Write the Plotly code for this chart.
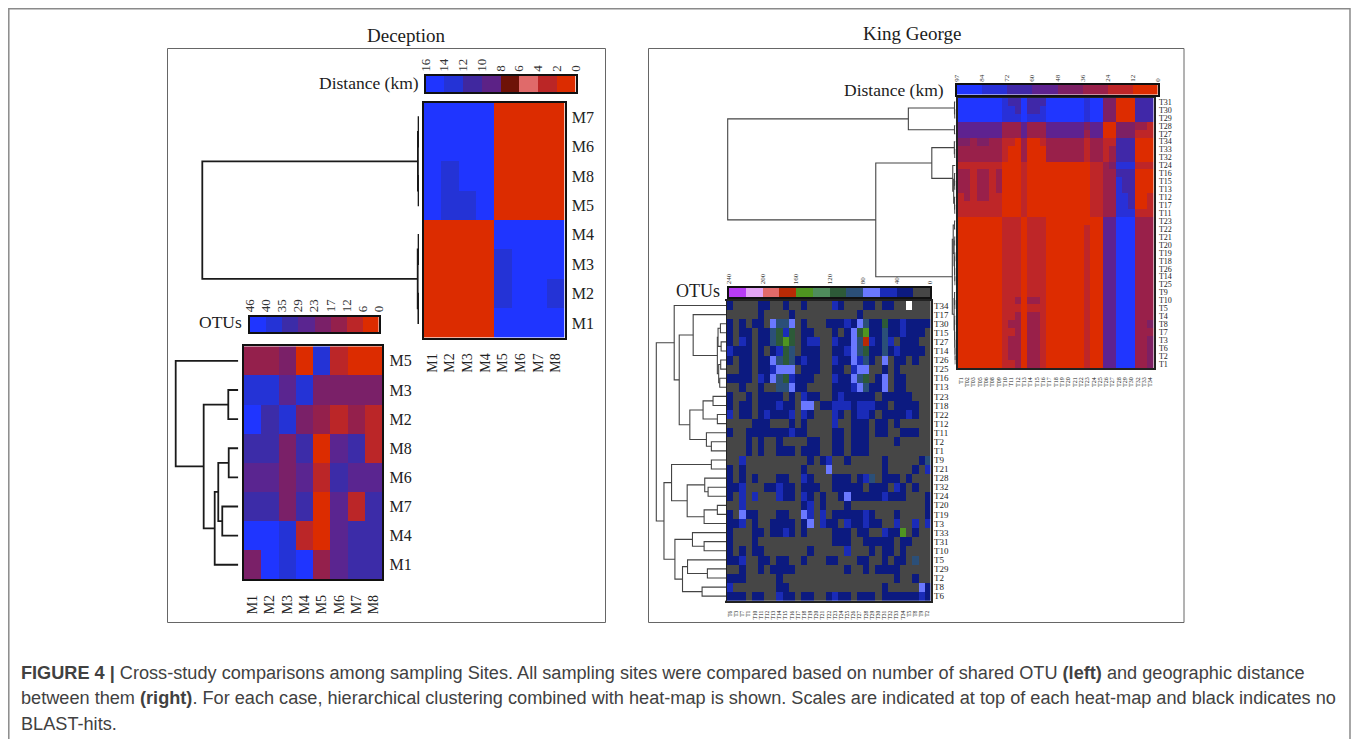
import plotly.graph_objects as go

PAGE_MARGIN = 8  # the page's own body margin
W, H = 1359 - PAGE_MARGIN, 739 - PAGE_MARGIN
SERIF = "Liberation Serif"
SANS = "Liberation Sans"

# ---------------- Deception: distance ----------------
DEC_DIST_LABELS = ["16", "14", "12", "10", "8", "6", "4", "2", "0"]
DEC_DIST_COLORS = ["#dc2c00", "#bb2626", "#e06a6a", "#6e1208", "#5c2286", "#40289f", "#2433d6", "#1f35ff"]
DEC_COLS = ["M1", "M2", "M3", "M4", "M5", "M6", "M7", "M8"]
DEC_DIST_ROWS = ["M7", "M6", "M8", "M5", "M4", "M3", "M2", "M1"]
DEC_DIST = [
    [7, 7, 7, 7, 0, 0, 0, 0],
    [7, 7, 7, 7, 0, 0, 0, 0],
    [7, 6, 7, 7, 0, 0, 0, 0],
    [7, 6, 6, 7, 0, 0, 0, 0],
    [0, 0, 0, 0, 7, 7, 7, 7],
    [0, 0, 0, 0, 6, 7, 7, 7],
    [0, 0, 0, 0, 6, 7, 7, 6],
    [0, 0, 0, 0, 7, 7, 7, 7],
]
DEC_DIST_TREE = (1, (0.005, (0.002, 0, 1), (0.002, 2, 3)), (0.006, (0.002, 4, 5), (0.003, 6, 7)))

# ---------------- Deception: OTUs ----------------
DEC_OTU_LABELS = ["46", "40", "35", "29", "23", "17", "12", "6", "0"]
DEC_OTU_COLORS = ["#dc2c00", "#bb2628", "#94204c", "#7a2068", "#5a2590", "#3c2ca8", "#2433d6", "#1f35ff"]
DEC_OTU_ROWS = ["M5", "M3", "M2", "M8", "M6", "M7", "M4", "M1"]
DEC_OTU = [
    [2, 2, 3, 0, 6, 1, 0, 0],
    [6, 6, 4, 6, 3, 3, 3, 3],
    [7, 5, 6, 3, 2, 1, 2, 1],
    [5, 5, 3, 5, 0, 4, 5, 1],
    [4, 4, 3, 4, 1, 5, 4, 4],
    [5, 5, 3, 5, 0, 4, 1, 5],
    [7, 7, 6, 1, 0, 4, 5, 5],
    [3, 7, 6, 7, 2, 4, 5, 5],
]
DEC_OTU_TREE = (1, 0, (0.553, (0.16, 1, 2),
                       (0.377, (0.32, (0.153, 3, 4), (0.256, 5, 6)), 7)))

# ---------------- King George: distance ----------------
KG_DIST_LABELS = ["97", "84", "72", "60", "48", "36", "24", "12", "0"]
KG_DIST_COLORS = ["#dd2c00", "#be2628", "#99204a", "#7d2064", "#5e2290", "#4028a8", "#2830d8", "#2036ff"]
KG_DIST_ROWS = ["T31", "T30", "T29", "T28", "T27", "T34", "T33", "T32", "T24", "T16", "T15", "T13",
                "T12", "T17", "T11", "T23", "T22", "T21", "T20", "T19", "T18", "T26", "T14", "T25",
                "T9", "T10", "T5", "T4", "T8", "T7", "T3", "T6", "T2", "T1"]
KG_DIST_COLS = ["T1", "T02", "T03", "T05", "T06", "T08", "T09", "T10", "T11", "T12", "T13", "T14",
                "T15", "T16", "T17", "T18", "T19", "T20", "T21", "T22", "T23", "T24", "T25", "T26",
                "T27", "T28", "T29", "T30", "T32", "T33", "T34"]
KG_DIST = [
    "7777777 655 7 555 777777 6 77 33 000 555",
    "7777777 665 7 556 777777 6 77 33 000 555",
    "7777777 666 7 666 777777 6 77 33 000 555",
    "4444444 222 4 222 444444 3 44 00 333 221",
    "4444444 222 4 222 444444 2 44 00 333 111",
    "3323322 110 2 001 222222 1 22 11 555 000",
    "2222222 100 2 000 222222 1 22 12 555 000",
    "2222222 100 2 000 222222 1 22 12 555 000",
    "1111111 000 1 000 000000 0 11 23 666 111",
    "2212212 000 1 000 000000 0 11 22 555 000",
    "2212212 000 1 000 000000 0 11 22 655 000",
    "2212212 000 1 000 000000 0 11 22 655 000",
    "1212211 000 1 000 000000 0 11 22 665 001",
    "1111111 000 1 000 000000 0 11 22 665 001",
    "1111111 000 1 000 000000 0 11 22 666 111",
    "0000000 111 0 111 000000 0 00 44 777 222",
    "0000000 111 0 111 000000 1 00 44 777 222",
    "0000000 111 0 111 000000 1 00 44 777 222",
    "0000000 111 0 111 000000 1 00 44 777 222",
    "0000000 111 0 111 000000 1 00 44 777 222",
    "0000000 111 0 111 000000 1 00 44 777 222",
    "0000000 111 0 111 000000 1 00 44 777 222",
    "0000000 111 0 111 000000 1 00 44 777 222",
    "0000000 111 0 111 000000 1 00 44 777 222",
    "0000000 111 0 111 000000 1 00 44 777 222",
    "0000000 112 0 221 000000 1 00 44 777 222",
    "0000000 111 0 111 000000 1 00 44 777 222",
    "0000000 112 0 221 000000 1 00 44 777 222",
    "0000000 122 0 221 000000 1 00 44 777 223",
    "0000000 112 0 221 000000 1 00 44 777 222",
    "0000000 122 0 221 000000 1 00 44 777 223",
    "0000000 122 0 221 000000 1 00 44 777 223",
    "0000000 122 0 221 000000 1 00 44 777 223",
    "0000000 112 0 221 000000 1 00 44 777 223",
]
KG_DIST_TREE = (1,
    (0.207, (0.0044, 0, (0.003, 1, 2)), (0.0044, 3, 4)),
    (0.35,
     (0.104, (0.005, 5, (0.003, 6, 7)),
      (0.012, 8, (0.008, (0.004, 9, (0.003, 10, 11)), (0.004, 12, (0.003, 13, 14))))),
     (0.014,
      (0.010, (0.004, 15, 16), (0.006, (0.003, 17, 18), (0.004, (0.002, 19, 20), (0.003, 21, (0.002, 22, 23))))),
      (0.006, (0.004, 24, (0.002, 25, 26)),
       (0.004, (0.003, 27, 28), (0.003, 29, (0.002, 30, (0.001, 31, (0.001, 32, 33)))))))))

# ---------------- King George: OTUs ----------------
KG_OTU_LABELS = ["240", "", "200", "", "160", "", "120", "", "80", "", "40", "", "0"]
KG_OTU_COLORS = ["#b83cf5", "#e3a5f5", "#e26a6a", "#b82a05", "#4f9520", "#4f8c5c", "#2d5a38", "#2b4f78",
                 "#6a78ff", "#1a2bb8", "#0c1a80", "#464646", "#ffffff"]
KG_OTU_CODES = {"r": 3, "g": 4, "d": 6, "t": 7, "p": 8, "b": 9, "n": 10, ".": 11, "w": 12}
KG_OTU_ROWS = ["T34", "T17", "T30", "T15", "T27", "T14", "T26", "T25", "T16", "T13", "T23", "T18",
               "T22", "T12", "T11", "T2", "T1", "T9", "T21", "T28", "T32", "T24", "T20", "T19",
               "T3", "T33", "T31", "T10", "T5", "T29", "T2", "T8", "T6"]
KG_OTU_COLS = ["T6", "T3", "T7", "T1", "T10", "T11", "T12", "T13", "T14", "T15", "T16", "T17", "T18",
               "T19", "T20", "T21", "T22", "T23", "T24", "T25", "T26", "T27", "T28", "T29", "T30",
               "T31", "T32", "T33", "T34", "T5", "T8", "T9", "T2"]
KG_OTU = [
    "n....nn..n..n....bn...nn.nn..w...",
    ".....n....n..........n...........",
    "n.n.nn.pttp.n...nnnbnptnndnnbnnnn",
    "n.nn.nntdbd.nn...n.npdgnntnnbnnn.",
    "n.bn.nntdgd.nbb..bnnptrbntb.nnn..",
    "bnnn.n.nbdt.nnn..nnbptdnntnbnnnn.",
    "n.nn.nnptdtnbnn..bnnpbtn.p.nn.n..",
    "..nn.nnbppp.nnn..nn.bpp..n.n.....",
    "nnnn.bnptdbnnn...bnnptd.np.nn....",
    "..n..n..ttpnn....nnnbptnnp.nn....",
    "n..n.nnnn.n.bnn..nbnnnnn.nnnnn...",
    "n.nn.nnnbnn.pp.nnbbbnbbbnn.nnnn..",
    "b.nn.nbnnnb.bn...bn.nbbn.nnnnbn..",
    "....nnn...n.n....b..nnn.nn.n.....",
    "n..nnnnnnnbnn....nn.nnn.nn..nnn..",
    "...n.n..n....nn..nn.nnn....n.....",
    "...n.n..nnn.nnn..nn.nnn..........",
    "..b..........n.nb..n.....n.....nt",
    "n.n.........n...p........n....n.b",
    "n.n.n...nn..bn...nnn.nbt.nnn.n...",
    "nnb...nnbnn.nnn..nnnnn.nnn.bn.n..",
    "n.b.b...bnn.bn.n..npnnnnnbnnn...n",
    "..b.........nb.n...n............n",
    "n.pnn...nn..pb.b.nnnnnbn...n....n",
    "nnb.n..nnnn.np.bnn.bnnbnn..b..b.b",
    "n...nn.nnbn.n....nnn.nn..bnng.n..",
    "n...n............nnn..nnnnn.nn...",
    "n.n.nn.......n.....b...n.nn.n....",
    "nnb..nn.nn..n...nn...nn..n.nn.t..",
    "..n..n.nnnn........n..n.nnnn.....",
    "nnn.....n..................n..n..",
    "b.......nn...............n.....pn",
    "nnn.nn..bnn.nn..nbnn.nnn.nnnnnnbn",
]
KG_OTU_TREE = (1,
    (0.743, 0,
     (0.671,
      (0.471, 1,
       (0.124,
        (0.114, (0.08, 2, 3), (0.07, 4, 5)),
        (0.105, (0.076, 6, 7), (0.09, 8, 9)))),
      (0.519,
       (0.329, (0.186, 10, 11), (0.124, 12, 13)),
       (0.281, 14, (0.21, 15, 16))))),
    (0.89,
     (0.781,
      (0.21, 17, 18),
      (0.557,
       (0.305, 19, (0.257, 20, 21)),
       (0.314, (0.124, 22, 23), 24))),
     (0.733,
      (0.481, 25, (0.314, 26, 27)),
      (0.624,
       (0.552, 28, (0.267, 29, 30)),
       (0.343, 31, 32)))))

TITLES = ["Deception", "King George"]
CAPTION = [
    "<b>FIGURE 4 |</b> Cross-study comparisons among sampling Sites. All sampling sites were compared based on number of shared OTU <b>(left)</b> and geographic distance",
    "between them <b>(right)</b>. For each case, hierarchical clustering combined with heat-map is shown. Scales are indicated at top of each heat-map and black indicates no",
    "BLAST-hits.",
]

fig = go.Figure()
layout = {}
axis_n = [0]


def pxx(x):
    return (x - PAGE_MARGIN) / W


def pxy(y):
    return 1 - (y - PAGE_MARGIN) / H


def new_axes(x0, x1, y0, y1, xopts, yopts):
    axis_n[0] += 1
    n = axis_n[0]
    s = "" if n == 1 else str(n)
    xo = dict(domain=[pxx(x0), pxx(x1)], anchor="y" + s, showgrid=False, zeroline=False, fixedrange=True)
    yo = dict(domain=[pxy(y1), pxy(y0)], anchor="x" + s, showgrid=False, zeroline=False, fixedrange=True)
    xo.update(xopts)
    yo.update(yopts)
    layout["xaxis" + s] = xo
    layout["yaxis" + s] = yo
    return "x" + s, "y" + s


def discrete_scale(colors):
    n = len(colors)
    out = []
    for i, c in enumerate(colors):
        out += [[i / n, c], [(i + 1) / n, c]]
    return out


def add_heat(z, colors, x0, x1, y0, y1, xt, yt, line_w, line_c, xfont, yfont, xgap, ygap):
    nr, nc = len(z), len(z[0])
    xa, ya = new_axes(
        x0, x1, y0, y1,
        dict(range=[-0.5, nc - 0.5], tickmode="array", tickvals=list(range(nc)), ticktext=xt,
             tickangle=-90, side="bottom", tickfont=dict(family=SERIF, size=xfont, color="#222"),
             showline=True, mirror=True, linecolor=line_c, linewidth=line_w, ticks="", ticklabelstandoff=xgap),
        dict(range=[nr - 0.5, -0.5], tickmode="array", tickvals=list(range(nr)), ticktext=yt,
             side="right", tickfont=dict(family=SERIF, size=yfont, color="#222"),
             showline=True, mirror=True, linecolor=line_c, linewidth=line_w, ticks="", ticklabelstandoff=ygap),
    )
    fig.add_trace(go.Heatmap(z=z, xaxis=xa, yaxis=ya, colorscale=discrete_scale(colors), zmin=-0.5,
                             zmax=len(colors) - 0.5, showscale=False, hoverinfo="skip"))


def add_legend(colors, order, labels, x0, x1, y0, y1, font, line_w):
    n = len(order)
    vals = [i - 0.5 for i in range(len(labels))]
    xa, ya = new_axes(
        x0, x1, y0, y1,
        dict(range=[-0.5, n - 0.5], tickmode="array", tickvals=vals, ticktext=labels, tickangle=-90, side="top",
             tickfont=dict(family=SERIF, size=font, color="#333"), showline=True, mirror=True,
             linecolor="#111", linewidth=line_w, ticks=""),
        dict(range=[-0.5, 0.5], showticklabels=False, showline=True, mirror=True, linecolor="#111",
             linewidth=line_w, ticks=""),
    )
    fig.add_trace(go.Heatmap(z=[order], xaxis=xa, yaxis=ya, colorscale=discrete_scale(colors),
                             zmin=-0.5, zmax=len(colors) - 0.5, showscale=False, hoverinfo="skip"))


def add_dendro(tree, n_rows, x_root, x_leaf, y0, y1, color, width):
    xs, ys = [], []

    def walk(node):
        if isinstance(node, int):
            return 0.0, float(node)
        h, a, b = node
        ha, ya = walk(a)
        hb, yb = walk(b)
        xs.extend([ha, h, h, hb, None])
        ys.extend([ya, ya, yb, yb, None])
        return h, (ya + yb) / 2

    walk(tree)
    pad = 3
    top = (x_leaf - (x_root - pad)) / (x_leaf - x_root)
    xa, ya = new_axes(x_root - pad, x_leaf, y0, y1,
                      dict(range=[top, 0], visible=False),
                      dict(range=[n_rows - 0.5, -0.5], visible=False))
    fig.add_trace(go.Scatter(x=xs, y=ys, xaxis=xa, yaxis=ya, mode="lines", hoverinfo="skip",
                             line=dict(color=color, width=width), showlegend=False))


blue_to_red = list(range(7, -1, -1))

# Deception distance
add_heat(DEC_DIST, DEC_DIST_COLORS, 423.5, 564.5, 102.5, 337.7, DEC_COLS, DEC_DIST_ROWS, 2, "#111", 14, 16, 8, 2)
add_legend(DEC_DIST_COLORS, blue_to_red, DEC_DIST_LABELS, 425.5, 575.5, 76, 92, 13, 1.5)
add_dendro(DEC_DIST_TREE, 8, 202.3, 419, 102.5, 337.7, "#1a1a1a", 1.8)

# Deception OTUs
add_heat(DEC_OTU, DEC_OTU_COLORS, 244, 382.3, 346.3, 579.3, DEC_COLS, DEC_OTU_ROWS, 2, "#111", 14, 16, 8, 2)
add_legend(DEC_OTU_COLORS, blue_to_red, DEC_OTU_LABELS, 250, 378.5, 316.5, 332, 13, 1.5)
add_dendro(DEC_OTU_TREE, 8, 175.7, 238.3, 346.3, 579.3, "#1a1a1a", 1.8)

# King George distance
kg_dist_z = [[int(ch) for ch in row.replace(" ", "")] for row in KG_DIST]
add_heat(kg_dist_z, KG_DIST_COLORS, 957.7, 1153.6, 98, 368, KG_DIST_COLS, KG_DIST_ROWS, 1.5, "#222", 6, 8, 5, 2)
add_legend(KG_DIST_COLORS, blue_to_red, KG_DIST_LABELS, 957, 1157.5, 85, 94.5, 7, 1.5)
add_dendro(KG_DIST_TREE, 34, 727.7, 955.5, 98, 368, "#444", 1.1)

# King George OTUs
kg_otu_z = [[KG_OTU_CODES[ch] for ch in row] for row in KG_OTU]
add_heat(kg_otu_z, KG_OTU_COLORS, 727, 930.5, 301, 600.7, KG_OTU_COLS, KG_OTU_ROWS, 1.5, "#222", 5.5, 9, 6, 0)
add_legend(KG_OTU_COLORS, list(range(12)), KG_OTU_LABELS, 729, 930, 287.5, 297, 7, 1.5)
add_dendro(KG_OTU_TREE, 33, 656.3, 726, 301, 600.7, "#444", 1.1)

# texts
annotations = []


def text(x, y, s, size, family=SERIF, anchor="center", color="#1c1c1c"):
    annotations.append(dict(x=pxx(x), y=pxy(y), xref="paper", yref="paper", text=s, showarrow=False,
                            xanchor=anchor, yanchor="middle", font=dict(family=family, size=size, color=color),
                            align="left"))


text(406, 35, TITLES[0], 19)
text(912, 33, TITLES[1], 19)
text(421, 83, "Distance (km)", 17.5, anchor="right")
text(244, 322, "OTUs", 17.5, anchor="right")
text(946, 90, "Distance (km)", 17.5, anchor="right")
text(722, 291, "OTUs", 18, anchor="right")
for line, y in zip(CAPTION, [673, 698, 724]):
    text(19, y, line, 18.15, family=SANS, anchor="left", color="#414141")

shapes = [
    dict(type="path", xref="paper", yref="paper",
         path="M %f %f L %f %f L %f %f L %f %f" % (pxx(8.8), 0, pxx(8.8), pxy(8.8), pxx(1350), pxy(8.8), pxx(1350), 0),
         line=dict(color="#8a8a8a", width=1.5)),
    dict(type="rect", xref="paper", yref="paper", x0=pxx(167.5), x1=pxx(605.5), y0=pxy(622.5), y1=pxy(48.5),
         line=dict(color="#666", width=1)),
    dict(type="rect", xref="paper", yref="paper", x0=pxx(648.5), x1=pxx(1184), y0=pxy(622.5), y1=pxy(48.5),
         line=dict(color="#666", width=1)),
]

fig.update_layout(width=W, height=H, margin=dict(l=0, r=0, t=0, b=0, autoexpand=False), paper_bgcolor="white",
                  plot_bgcolor="white", showlegend=False, annotations=annotations, shapes=shapes, **layout)

fig.write_html("out.html", config={"displayModeBar": False}, default_width="1351px", default_height="731px")
